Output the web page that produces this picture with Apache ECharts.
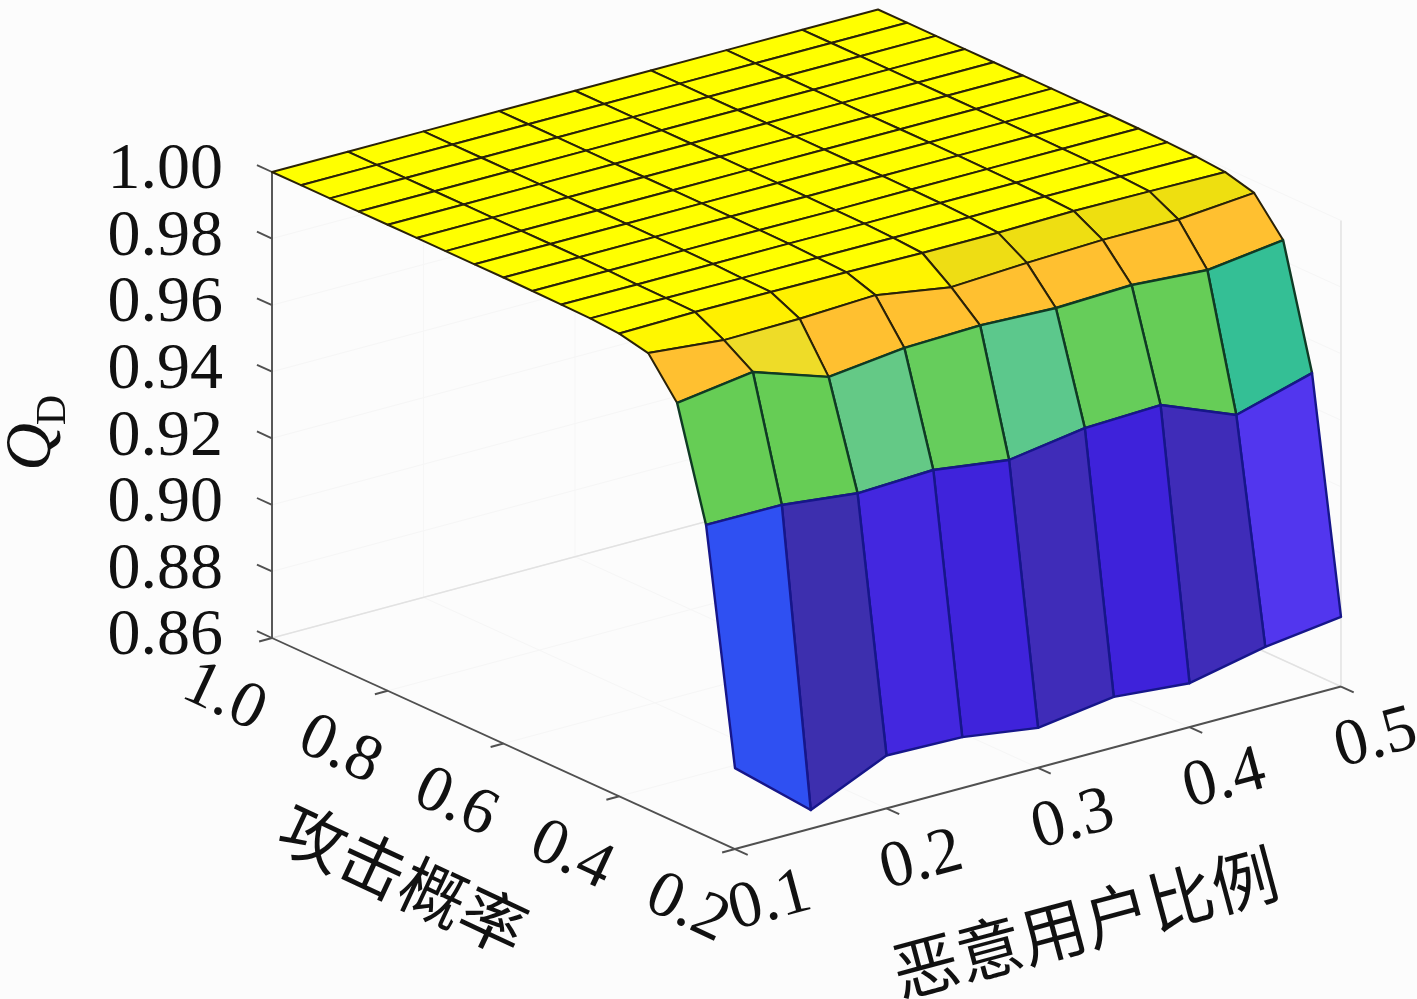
<!DOCTYPE html>
<html>
<head>
<meta charset="utf-8">
<style>html,body{margin:0;padding:0;background:#fcfcfc}#c{width:1417px;height:999px}</style>
<script src="https://cdn.jsdelivr.net/npm/echarts@6/dist/echarts.min.js"></script>
</head>
<body>
<div id="c"></div>
<script>
// ---------- data ----------
const ratioValues = [0.10,0.15,0.20,0.25,0.30,0.35,0.40,0.45,0.50];
const probValues = [0.20,0.25,0.30,0.35,0.40,0.45,0.50,0.55,0.60,0.65,0.70,0.75,0.80,0.85,0.90,0.95,1.00];
const qdRow020 = [0.8843,0.8656,0.8759,0.8753,0.8720,0.8752,0.8732,0.8780,0.8809];
const qdRow025 = [0.9534,0.9533,0.9507,0.9516,0.9485,0.9520,0.9528,0.9437,0.9502];
const qdRow030 = [0.9861,0.9893,0.9817,0.9843,0.9850,0.9841,0.9849,0.9833,0.9862];
const qdRow035 = [0.9971,0.9949,0.9952,0.9962,0.9925,0.9937,0.9945,0.9945,0.9964];
const qdRow040 = [0.9990,0.9994,0.9993,0.9991,0.9988,0.9988,0.9992,0.9990,0.9987];
const qdRow045 = [0.9996,0.9996,0.9995,0.9995,0.9994,0.9995,0.9996,0.9995,0.9994];
const qdRow050 = [0.9998,0.9997,0.9998,0.9998,0.9997,0.9998,0.9998,0.9998,0.9997];
const qdRow055 = [0.9999,0.9999,0.9999,0.9999,0.9998,0.9999,0.9999,0.9999,0.9999];
const qdRow060 = [1,1,1,1,0.9999,1,1,1,1];
const qdRow065 = [1,1,1,1,1,1,1,1,1];
const qdRow070 = [1,1,1,1,1,1,1,1,1];
const qdRow075 = [1,1,1,1,1,1,1,1,1];
const qdRow080 = [1,1,1,1,1,1,1,1,1];
const qdRow085 = [1,1,1,1,1,1,1,1,1];
const qdRow090 = [1,1,1,1,1,1,1,1,1];
const qdRow095 = [1,1,1,1,1,1,1,1,1];
const qdRow100 = [1,1,1,1,1,1,1,1,1];
const qdRows = [qdRow020,qdRow025,qdRow030,qdRow035,qdRow040,qdRow045,qdRow050,qdRow055,qdRow060,qdRow065,qdRow070,qdRow075,qdRow080,qdRow085,qdRow090,qdRow095,qdRow100];

const ratioTicks = [0.1,0.2,0.3,0.4,0.5];
const ratioTickLabels = ['0.1','0.2','0.3','0.4','0.5'];
const probTicks = [1.0,0.8,0.6,0.4,0.2];
const probTickLabels = ['1.0','0.8','0.6','0.4','0.2'];
const qdTicks = [0.86,0.88,0.90,0.92,0.94,0.96,0.98,1.00];
const qdTickLabels = ['0.86','0.88','0.90','0.92','0.94','0.96','0.98','1.00'];
const ratioTitle = '恶意用户比例';
const probTitle = '攻击概率';

// ---------- colour map ----------
const colorStops = [
 [0.8656,'#3d2fae'],[0.8720,'#3f2cb8'],[0.8735,'#3f2cb8'],[0.8752,'#3e22da'],[0.8780,'#5236ee'],[0.8843,'#2f50f2'],
 [0.9437,'#34bf95'],[0.9485,'#5cc88c'],[0.9507,'#64c986'],[0.9516,'#66cd5c'],[0.9534,'#66cd55'],
 [0.9817,'#ffc030'],[0.9861,'#ffc030'],[0.9893,'#eedc28'],[0.9925,'#eedd14'],[0.9945,'#eedf10'],[0.9949,'#fff000'],[0.9970,'#fff600'],[0.9985,'#ffff00'],[1.0,'#ffff00']
];
function colorOf(q){
  for(let i=1;i<colorStops.length;i++){
    if(q<=colorStops[i][0]){
      const a=colorStops[i-1],b=colorStops[i];
      const t=Math.max(0,(q-a[0])/(b[0]-a[0]));
      return echarts.color.lerp(t,[a[1],b[1]]);
    }
  }
  return colorStops[colorStops.length-1][1];
}

// ---------- oblique projection, in axis units ----------
const P_TO_X = 0.38201, P_TO_Q = 0.07924, R_TO_Q = 0.12205;
const R0 = 0.1, P1 = 1.0, Q0 = 0.86, Q1 = 1.0, R1 = 0.5, P0 = 0.2;
function project(api,r,p,q){
  return api.coord([r + P_TO_X*(P1-p), q - P_TO_Q*(P1-p) + R_TO_Q*(r-R0)]);
}

// ---------- element lists ----------
const gridLines = [];
qdTicks.forEach(z=>{ gridLines.push([R0,P1,z,R1,P1,z],[R1,P1,z,R1,P0,z]); });
ratioTicks.forEach(r=>{ gridLines.push([r,P0,Q0,r,P1,Q0],[r,P1,Q0,r,P1,Q1]); });
probTicks.forEach(p=>{ gridLines.push([R0,p,Q0,R1,p,Q0],[R1,p,Q0,R1,p,Q1]); });
const boxLines = [[R0,P1,Q0,R1,P1,Q0],[R1,P1,Q0,R1,P0,Q0],[R1,P0,Q0,R1,P0,Q1]];
const axisLines = [[R0,P1,Q0,R0,P1,Q1],[R0,P1,Q0,R0,P0,Q0],[R0,P0,Q0,R1,P0,Q0]];
qdTicks.forEach(z=>axisLines.push([R0,P1,z,R0,P1+0.026,z]));
ratioTicks.forEach(r=>axisLines.push([r,P0,Q0,r,P0-0.022,Q0]));
probTicks.forEach(p=>axisLines.push([R0,p,Q0,R0-0.0085,p,Q0]));

const cells = [];
for(let j=probValues.length-2;j>=0;j--){
  for(let i=ratioValues.length-2;i>=0;i--){ cells.push([i,j]); }
}

const NUM_FONT = '"Liberation Serif","DejaVu Serif",serif';
const CJK_FONT = '"Noto Sans CJK SC",sans-serif';
const rad = d=>d*Math.PI/180;

function lineSeries(list,color,width){
  return {type:'custom',coordinateSystem:'cartesian2d',silent:true,animation:false,clip:false,
    data:list.map((_,i)=>[i]),
    renderItem(params,api){
      const l=list[params.dataIndex];
      const a=project(api,l[0],l[1],l[2]),b=project(api,l[3],l[4],l[5]);
      return {type:'line',shape:{x1:a[0],y1:a[1],x2:b[0],y2:b[1]},style:{stroke:color,lineWidth:width}};
    }};
}

const surfaceSeries = {type:'custom',name:'Q_D',coordinateSystem:'cartesian2d',silent:true,animation:false,clip:false,
  data:cells,
  renderItem(params,api){
    const c=cells[params.dataIndex],i=c[0],j=c[1];
    const P=(a,b)=>project(api,ratioValues[a],probValues[b],qdRows[b][a]);
    return {type:'polygon',shape:{points:[P(i,j),P(i+1,j),P(i+1,j+1),P(i,j+1)]},
      style:{fill:colorOf(qdRows[j][i]),stroke:j===0?'#16168a':(j===1?'#0f3a24':'#2a2208'),lineWidth:j<2?2.4:2,lineJoin:'round'}};
  }};

const textSeries = {type:'custom',coordinateSystem:'cartesian2d',silent:true,animation:false,clip:false,
  data:[[0]],
  renderItem(params,api){
    const kids=[];
    const T=(text,x,y,rot,size,font,align,extra)=>kids.push({type:'text',x,y,rotation:rad(rot),
      style:Object.assign({text,fontFamily:font,fontSize:size,fill:'#111',align:align||'center',verticalAlign:'middle'},extra||{})});
    qdTicks.forEach((z,k)=>{const a=project(api,R0,P1,z);T(qdTickLabels[k],a[0]-49,a[1]-1,0,66,NUM_FONT,'right');});
    probTicks.forEach((p,k)=>{const a=project(api,R0,p,Q0);T(probTickLabels[k],a[0]-48,a[1]+60,-25,66,NUM_FONT);});
    ratioTicks.forEach((r,k)=>{const a=project(api,r,P0,Q0);T(ratioTickLabels[k],a[0]+35,a[1]+53,15,66,NUM_FONT);});
    const pm=project(api,R0,0.6,Q0),rm=project(api,0.3,P0,Q0);
    T(probTitle,pm[0]-100,pm[1]+135,-25,66,CJK_FONT);
    T(ratioTitle,rm[0]+47,rm[1]+155,15,66,CJK_FONT);
    T('Q',33,447,90,66,NUM_FONT,'center',{fontStyle:'italic'});
    T('D',54,410,90,42,NUM_FONT);
    return {type:'group',children:kids};
  }};

const chart = echarts.init(document.getElementById('c'),null,{renderer:'canvas'});
chart.setOption({
  backgroundColor:'#fcfcfc',
  animation:false,
  grid:{left:0,right:0,top:0,bottom:0},
  xAxis:{type:'value',min:-0.07954,max:0.85578,show:false},
  yAxis:{type:'value',min:0.75155,max:1.05167,show:false},
  series:[
    lineSeries(gridLines,'#f6f6f6',1),
    lineSeries(boxLines,'#e2e2e2',1.4),
    lineSeries(axisLines,'#505050',1.9),
    surfaceSeries,
    textSeries
  ]
});
</script>
</body>
</html>
